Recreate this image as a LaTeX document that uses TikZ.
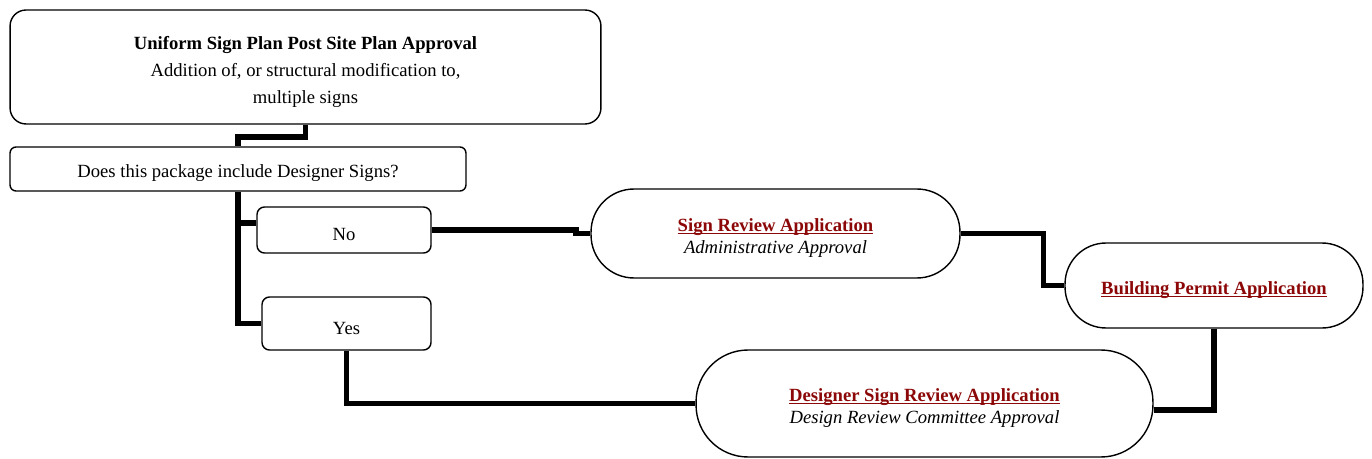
\documentclass[tikz,border=0pt]{standalone}
\usepackage{fontspec}
\setmainfont{Liberation Serif}
\usetikzlibrary{positioning, calc}
\definecolor{linkred}{RGB}{140,8,8}
\tikzset{
    base/.style={draw, thick, align=center, font=\fontsize{10.6}{12.6}\selectfont, fill=white, rectangle},
    startbox/.style={base, rounded corners=0.32cm, minimum width=11.82cm, minimum height=2.28cm, font=\fontsize{10.6}{15.4}\selectfont},
    question/.style={base, rounded corners=0.12cm, minimum width=9.12cm, minimum height=0.88cm},
    answer/.style={base, rounded corners=0.15cm, minimum width=3.4cm},
    apply/.style={base, minimum height=1.8cm},
    link/.style={line width=3.2pt, draw=black}
}
\newcommand{\lift}[1][12.3pt]{\rule{0pt}{#1}}
\newcommand{\applink}[1]{\textcolor{linkred}{\underline{\smash{\textbf{#1}}}}\vphantom{\textbf{#1}}}

\begin{document}
\begin{tikzpicture}[x=0.02cm, y=-0.02cm]
    \useasboundingbox (0,0) rectangle (1372,459);
    \node (start) [startbox] at (305.5,67) {\lift[13pt]\textbf{Uniform Sign Plan Post Site Plan Approval} \\ Addition of, or structural modification to, \\ multiple signs};
    \node (ask) [question] at (238,169) {\lift Does this package include Designer Signs?};
    \node (no) [answer, minimum width=3.48cm, minimum height=0.92cm] at (344,230) {\lift No};
    \node (yes) [answer, minimum width=3.38cm, minimum height=1.06cm] at (346.5,323.5) {\lift Yes};
    \node (signreview) [apply, minimum width=7.38cm, minimum height=1.78cm, rounded corners=0.86cm] at (775.5,233.5) {\lift\applink{Sign Review Application} \\ \textit{Administrative Approval}};
    \node (permit) [apply, minimum width=5.96cm, minimum height=1.7cm, rounded corners=0.82cm] at (1214,285.5) {\lift\applink{Building Permit Application}};
    \node (designer) [apply, minimum width=9.14cm, minimum height=2.14cm, rounded corners=1.04cm] at (924.5,403.5) {\lift\applink{Designer Sign Review Application} \\ \textit{Design Review Committee Approval}};

    \draw [link] (start.south) -- ++(0,12) -| (ask.north);
    \draw [link] (ask.south) |- (yes.west);
    \draw [link] ([yshift=0.14cm]no.west) -- ([yshift=0.14cm]no.west -| ask.south);
    \draw [link] (no.east) -- ++(144,0) |- (signreview.west);
    \draw [link] (signreview.east) -- ++(83,0) |- (permit.west);
    \draw [link] (permit.south) |- ([yshift=-0.13cm]designer.east);
    \draw [link] (yes.south) |- (designer.west);
\end{tikzpicture}
\end{document}
